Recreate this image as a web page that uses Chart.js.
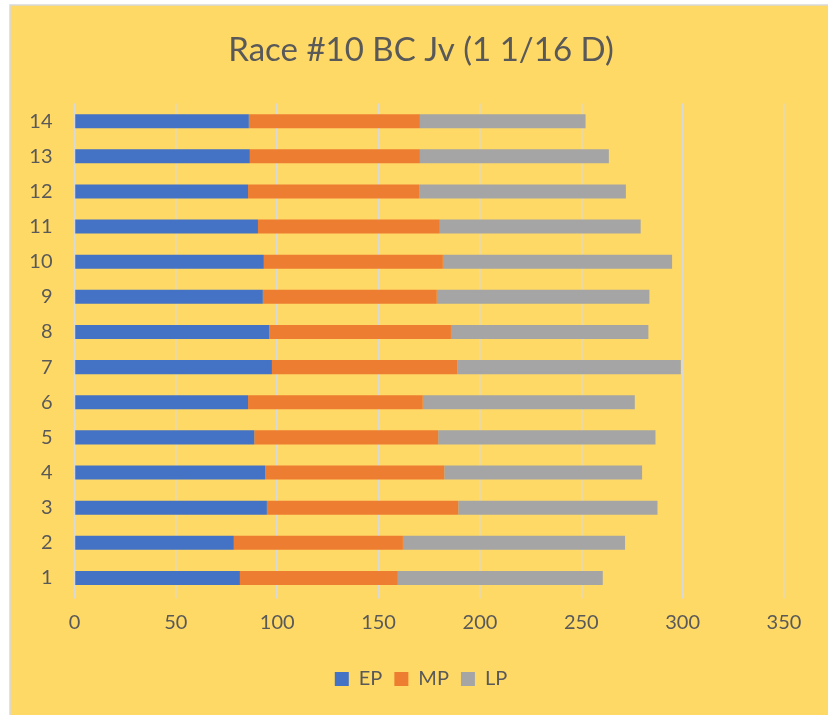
<!DOCTYPE html>
<html>
<head>
<meta charset="utf-8">
<script src="https://cdn.jsdelivr.net/npm/chart.js@4.4.1/dist/chart.umd.min.js"></script>
<style>
html,body{margin:0;padding:0;background:#FFD966;overflow:hidden;}
#wrap{width:828px;height:715px;position:relative;}
canvas{display:block;}
</style>
</head>
<body>
<div id="wrap"><canvas id="c" width="828" height="715"></canvas></div>
<script>
const titleText = 'Race #10 BC Jv (1 1/16 D)';
const categories = ['1','2','3','4','5','6','7','8','9','10','11','12','13','14'];
const seriesNames = ['EP','MP','LP'];
const EP = [81.6, 78.6, 94.9, 94.1, 88.7, 85.6, 97.4, 96.1, 92.9, 93.4, 90.5, 85.6, 86.5, 86.0];
const MP = [77.9, 83.4, 94.4, 88.3, 90.7, 86.2, 91.4, 89.6, 85.8, 88.3, 89.7, 84.4, 83.9, 84.4];
const LP = [101.1, 109.6, 98.3, 97.6, 107.2, 104.6, 110.3, 97.4, 104.9, 113.1, 99.1, 102.0, 93.2, 81.7];
const xTicks = [0, 50, 100, 150, 200, 250, 300, 350];

const colors = ['#4472C4', '#ED7D31', '#A5A5A5'];
const FONT = 'Lato, "Open Sans", sans-serif';
const TEXT = '#595959';

const bgPlugin = {
  id: 'bg',
  beforeDraw(chart) {
    const ctx = chart.ctx;
    ctx.save();
    ctx.fillStyle = '#ffffff';
    ctx.fillRect(0, 0, chart.width, chart.height);
    ctx.fillStyle = '#FFD966';
    ctx.fillRect(10, 5, chart.width - 10, chart.height - 5);
    ctx.strokeStyle = '#D9D9D9';
    ctx.lineWidth = 1.5;
    ctx.beginPath();
    ctx.moveTo(10, chart.height);
    ctx.lineTo(10, 5);
    ctx.lineTo(chart.width, 5);
    ctx.stroke();
    ctx.restore();
  }
};

const dataSets = [EP, MP, LP];
new Chart(document.getElementById('c'), {
  type: 'bar',
  plugins: [bgPlugin],
  data: {
    labels: categories,
    datasets: seriesNames.map((n, i) => ({
      label: n,
      data: dataSets[i],
      backgroundColor: colors[i],
      borderWidth: 0,
      barPercentage: 0.4,
      categoryPercentage: 1.0
    }))
  },
  options: {
    indexAxis: 'y',
    responsive: false,
    animation: false,
    devicePixelRatio: 1,
    layout: { padding: { left: 14, right: 0, top: 0, bottom: 16 } },
    plugins: {
      title: {
        display: true,
        text: titleText,
        color: TEXT,
        font: { family: FONT, size: 33, weight: 'normal' },
        padding: { top: 31, bottom: 33 }
      },
      legend: {
        display: true,
        position: 'bottom',
        labels: {
          color: TEXT,
          font: { family: FONT, size: 20 },
          boxWidth: 14,
          boxHeight: 14,
          padding: 12
        }
      },
      tooltip: { enabled: false }
    },
    scales: {
      x: {
        stacked: true,
        min: 0,
        max: 350,
        afterBuildTicks(axis) { axis.ticks = xTicks.map(v => ({ value: v })); },
        grid: { color: '#D9D9D9', lineWidth: 1.5, drawTicks: true, tickLength: 3, tickColor: '#D9D9D9' },
        border: { display: false },
        ticks: { color: TEXT, font: { family: FONT, size: 20 }, padding: 12 },
        afterFit(axis) { axis.height = 61.5; }
      },
      y: {
        stacked: true,
        reverse: true,
        grid: { display: false, drawTicks: false, tickLength: 0 },
        border: { display: false },
        ticks: { color: TEXT, font: { family: FONT, size: 20 }, padding: 22 },
        afterFit(axis) { axis.width = 60.5; }
      },
      yRight: {
        type: 'linear',
        axis: 'y',
        position: 'right',
        display: true,
        grid: { display: false, drawTicks: false },
        border: { display: false },
        ticks: { display: false },
        afterFit(axis) { axis.width = 44; }
      }
    }
  }
});
</script>
</body>
</html>
